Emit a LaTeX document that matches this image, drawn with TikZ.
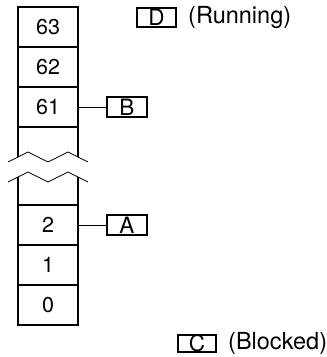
\documentclass[tikz,border=0pt]{standalone}
\usepackage{fontspec}
\setmainfont{TeX Gyre Heros}
\usetikzlibrary{positioning}

\begin{document}
\begin{tikzpicture}[x=1pt,y=-1pt,node distance=0pt,
    slot/.style={draw,line width=1.5pt,outer sep=0pt,minimum width=60pt,minimum height=40pt,font=\fontsize{21.5}{23}\selectfont},
    task/.style={draw,line width=1.5pt,outer sep=0pt,minimum width=40pt,minimum height=20pt,inner sep=0pt,font=\fontsize{22.5}{24}\selectfont},
    state/.style={anchor=west,inner sep=0pt,font=\fontsize{23.5}{25}\selectfont}]
  \useasboundingbox (0,0) rectangle (327,357);
  % priority slots, top part
  \node[slot] (s63) at (48,27) {63};
  \node[slot,below=of s63] (s62) {62};
  \node[slot,below=of s62] (s61) {61};
  % priority slots, bottom part
  \node[slot] (s2) at (48,225) {2};
  \node[slot,below=of s2] (s1) {1};
  \node[slot,below=of s1] (s0) {0};
  % broken column between 61 and 2
  \coordinate (brkTL) at (18,157);
  \coordinate (brkTR) at (78,157);
  \coordinate (brkBL) at (18,177);
  \coordinate (brkBR) at (78,177);
  \draw[line width=1.5pt] (s61.south west) -- (brkTL) (s61.south east) -- (brkTR);
  \draw[line width=1.5pt] (brkBL) -- (s2.north west) (brkBR) -- (s2.north east);
  \draw[line width=0.8pt] (8,162) -- (28,152) -- (48,162) -- (68,152) -- (88,162);
  \draw[line width=0.8pt] (8,182) -- (28,172) -- (48,182) -- (68,172) -- (88,182);
  % ready tasks
  \node[task,right=29pt of s61] (tB) {B};
  \node[task,right=29pt of s2] (tA) {A};
  \draw[line width=0.8pt] (s61.east) -- (tB.west);
  \draw[line width=0.8pt] (s2.east) -- (tA.west);
  % running and blocked tasks
  \node[task,minimum width=39pt,minimum height=19pt] (tD) at (156.5,17.5) {D};
  \node[state] (lRun) at (188,17.5) {(Running)};
  \node[task,minimum width=38pt,minimum height=17pt] (tC) at (197,343.5) {C};
  \node[state] (lBlk) at (228,343.5) {(Blocked)};
\end{tikzpicture}
\end{document}
